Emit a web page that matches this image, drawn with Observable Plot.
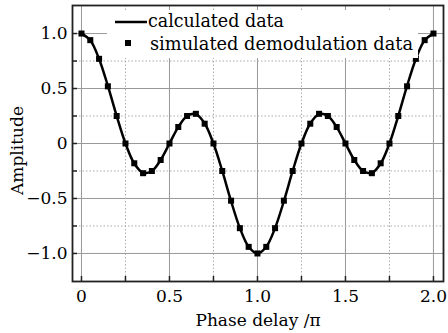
<!DOCTYPE html>
<html><head><meta charset="utf-8">
<script src="https://cdn.jsdelivr.net/npm/d3@7"></script>
<script src="https://cdn.jsdelivr.net/npm/@observablehq/plot@0.6"></script>
<style>
html,body{margin:0;padding:0;background:#fff;}
#wrap{position:relative;width:448px;height:333px;font-family:"DejaVu Serif",serif;}
#legend{position:absolute;left:107px;top:10px;}
</style></head>
<body><div id="wrap"><div id="chart"></div>
<svg id="legend" width="311" height="48" font-family="DejaVu Serif, serif" font-size="18">
 <rect x="0" y="0" width="311" height="48" fill="#fff"/>
 <line x1="8" x2="40" y1="12" y2="12" stroke="#000" stroke-width="2.5"/>
 <text x="41" y="17" fill="#000" textLength="136" lengthAdjust="spacingAndGlyphs">calculated data</text>
 <rect x="18" y="30" width="6" height="6" fill="#000"/>
 <text x="43" y="40" fill="#000" textLength="263" lengthAdjust="spacingAndGlyphs">simulated demodulation data</text>
</svg></div>
<script>
const phase = [0,0.05,0.1,0.15,0.2,0.25,0.3,0.35,0.4,0.45,0.5,0.55,0.6,0.65,0.7,0.75,0.8,0.85,0.9,0.95,1.0,1.05,1.1,1.15,1.2,1.25,1.3,1.35,1.4,1.45,1.5,1.55,1.6,1.65,1.7,1.75,1.8,1.85,1.9,1.95,2.0];
const calculated = [1,0.939,0.769,0.524,0.25,0,-0.182,-0.267,-0.25,-0.149,0,0.149,0.25,0.267,0.182,0,-0.25,-0.524,-0.769,-0.939,-1,-0.939,-0.769,-0.524,-0.25,0,0.182,0.267,0.25,0.149,0,-0.149,-0.25,-0.267,-0.182,0,0.25,0.524,0.769,0.939,1];
const simulated = [1,0.94,0.77,0.52,0.25,0,-0.18,-0.27,-0.25,-0.15,0,0.15,0.25,0.27,0.18,0,-0.25,-0.52,-0.77,-0.94,-1,-0.94,-0.77,-0.52,-0.25,0,0.18,0.27,0.25,0.15,0,-0.15,-0.25,-0.27,-0.18,0,0.25,0.52,0.77,0.94,1];
const xMajor = [0,0.5,1.0,1.5,2.0];
const xMinor = [0.25,0.75,1.25,1.75];
const yMajor = [-1.0,-0.5,0,0.5,1.0];
const yMinor = [-0.75,-0.25,0.25,0.75];

const calcData = phase.map((x,i)=>({x, y: calculated[i]}));
const simData = phase.map((x,i)=>({x, y: simulated[i]}));
const fmt = d => d === 0 ? "0" : (d < 0 ? "\u2212" : "") + Math.abs(d).toFixed(1);
const none = () => "";

const chart = Plot.plot({
  width: 448, height: 333,
  marginLeft: 72, marginRight: 5, marginTop: 5, marginBottom: 52,
  style: {fontFamily: "DejaVu Serif, serif", fontSize: "17px", background: "#fff", color: "#000"},
  x: {domain: [-0.051, 2.057]},
  y: {domain: [-1.255, 1.255]},
  marks: [
    Plot.gridX(xMajor, {stroke: "#999", strokeOpacity: 1, strokeWidth: 1}),
    Plot.gridY(yMajor, {stroke: "#999", strokeOpacity: 1, strokeWidth: 1}),
    Plot.gridX(xMinor, {stroke: "#aaa", strokeOpacity: 1, strokeWidth: 1, strokeDasharray: "1.5,2"}),
    Plot.gridY(yMinor, {stroke: "#aaa", strokeOpacity: 1, strokeWidth: 1, strokeDasharray: "1.5,2"}),
    Plot.axisX(xMajor.concat(xMinor), {anchor: "bottom", tickSize: -5, tickFormat: none, label: null, stroke: "#222", strokeWidth: 1.5}),
    Plot.axisX(xMajor, {anchor: "bottom", tickSize: 0, tickPadding: 8, tickFormat: fmt, label: "Phase delay /\u03c0", labelAnchor: "center", labelArrow: "none", labelOffset: 44, fontSize: 17}),
    Plot.axisY(yMajor.concat(yMinor), {anchor: "left", tickSize: -5, tickFormat: none, label: null, stroke: "#222", strokeWidth: 1.5}),
    Plot.axisY(yMajor, {anchor: "left", tickSize: 0, tickPadding: 5, tickFormat: fmt, label: null, fontSize: 17}),
    Plot.text(["Amplitude"], {frameAnchor: "left", textAnchor: "middle", rotate: -90, dx: -55, dy: 7, fontSize: 17, fill: "#000"}),
    Plot.line(calcData, {x: "x", y: "y", curve: "catmull-rom", stroke: "#000", strokeWidth: 2.5}),
    Plot.dot(simData, {x: "x", y: "y", symbol: "square", r: 3.4, fill: "#000", stroke: "none"}),
    Plot.frame({stroke: "#222", strokeWidth: 1.8})
  ]
});
document.getElementById("chart").appendChild(chart);
</script></body></html>
